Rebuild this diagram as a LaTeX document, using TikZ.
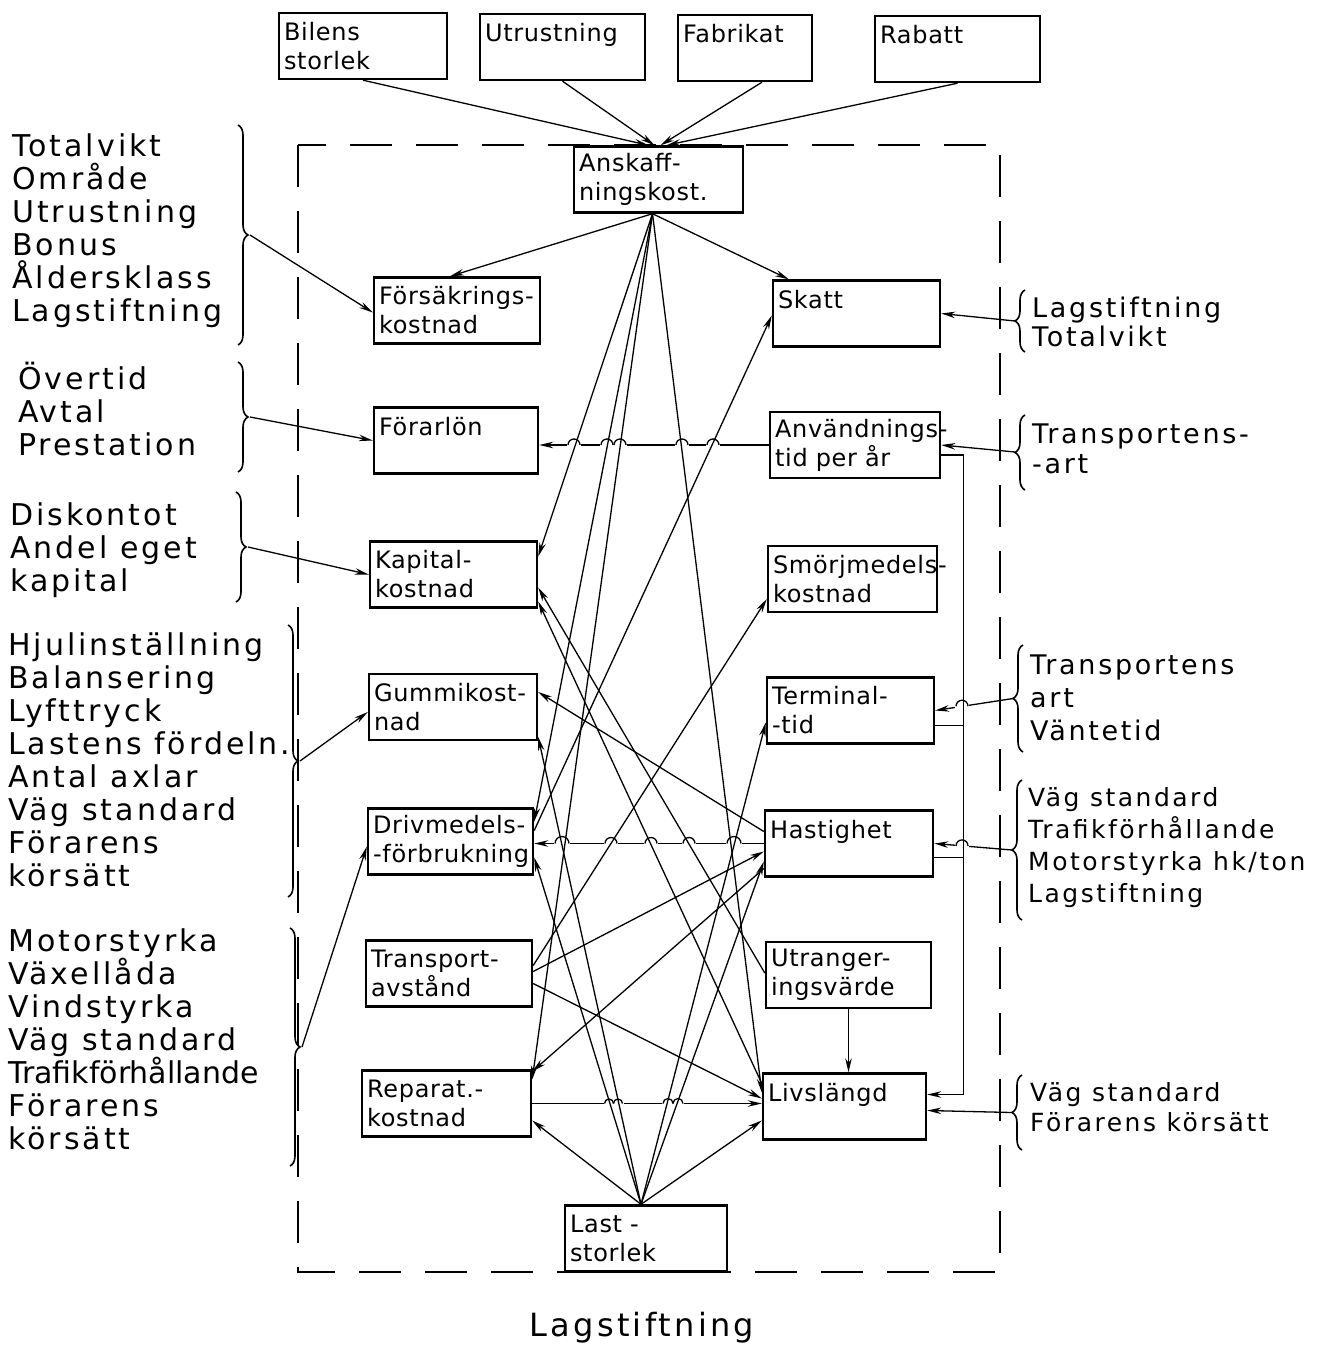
\documentclass[tikz,border=0pt]{standalone}
\usepackage{fontspec}
\setmainfont{DejaVu Sans}
\newfontfamily\hand{DejaVu Sans}[LetterSpace=10]
\newfontfamily\handbox{DejaVu Sans}[LetterSpace=3]
\usetikzlibrary{arrows.meta,calc,decorations.pathreplacing}

% small jumps where a line passes over another one
\newcommand{\hopgap}[3]{\fill[white] (#1-#3-1,#2-2.5) rectangle (#1+#3+1,#2+2.5);}
\newcommand{\hoparc}[3]{\draw[conn] (#1-#3,#2) arc (180:360:#3);}

\tikzset{
  box/.style={draw, line width=2.4pt, fill=white, align=left, text width=#1,
    minimum height=66pt, inner xsep=5pt, inner ysep=0pt,
    font=\handbox\fontsize{24}{29}\selectfont,
    execute at begin node={\exhyphenpenalty=10000\relax}},
  factors/.style={align=left, inner sep=0pt, anchor=north west,
    font=\hand\fontsize{30}{33}\selectfont},
  conn/.style={line width=1.3pt},
  arr/.style={conn, -{Stealth[length=14pt,width=6.5pt]}},
  frame/.style={line width=2pt, dash pattern=on 42pt off 24pt},
  bracket/.style={line width=1.6pt, decorate, decoration={brace, amplitude=10pt}},
}

\begin{document}
\begin{tikzpicture}[x=1pt,y=-1pt]
  \fill[white] (0,0) rectangle (1334,1357);
  \useasboundingbox (0,0) rectangle (1334,1357);

  \draw[frame] (298,145) rectangle (1000,1272);

  % boxes
  \node[box=158pt] (bil) at (363,46) {Bilens\\storlek};
  \node[box=155pt] (utr) at (562.5,47) {Utrustning\\\mbox{}};
  \node[box=124pt] (fab) at (745,48) {Fabrikat\\\mbox{}};
  \node[box=155pt] (rab) at (957.5,49) {Rabatt\\\mbox{}};

  \node[box=159pt] (ansk) at (658.5,179.5) {Anskaff-\\ningskost.};
  \node[box=156pt] (fors) at (457,310.5) {Försäkrings-\\kostnad};
  \node[box=157pt] (skatt) at (856.5,313.5) {Skatt\\\mbox{}};
  \node[box=154pt] (forar) at (456,440.5) {Förarlön\\\mbox{}};
  \node[box=160pt] (anv) at (855,445) {Användnings-\\tid per år};
  \node[box=157pt] (kap) at (453.5,574.5) {Kapital-\\kostnad};
  \node[box=159pt] (smorj) at (852.5,579) {Smörjmedels-\\kostnad};
  \node[box=158pt] (gummi) at (453,707) {Gummikost-\\nad};
  \node[box=157pt] (term) at (850.5,710.5) {Terminal-\\-tid};
  \node[box=155pt] (driv) at (450.5,841.5) {Drivmedels-\\-förbrukning};
  \node[box=158pt] (hast) at (849,843.5) {Hastighet\\\mbox{}};
  \node[box=156pt] (transp) at (449,973.5) {Transport-\\avstånd};
  \node[box=155pt] (utrang) at (848.5,975) {Utranger-\\ingsvärde};
  \node[box=159pt] (rep) at (446.5,1103.5) {Reparat.-\\kostnad};
  \node[box=153pt] (liv) at (844.5,1106.5) {Livslängd\\\mbox{}};
  \node[box=152pt] (last) at (646,1238.5) {Last -\\storlek};

  % factors on the left
  \node[factors] (g1) at (12,134) {Totalvikt\\Område\\Utrustning\\Bonus\\Åldersklass\\Lagstiftning};
  \node[factors] (g2) at (18,362) {Övertid\\Avtal\\Prestation};
  \node[factors] (g3) at (10,502) {Diskontot\\Andel eget\\kapital};
  \node[factors] (g4) at (8,632) {Hjulinställning\\Balansering\\Lyfttryck\\Lastens fördeln.\\Antal axlar\\Väg standard\\Förarens\\körsätt};
  \node[factors] (g5) at (8,928) {Motorstyrka\\Växellåda\\Vindstyrka\\Väg standard\\{\addfontfeatures{LetterSpace=0}Trafikförhållande}\\Förarens\\körsätt};

  \draw[bracket] (238,125) -- (238,345);
  \draw[bracket] (238,362) -- (238,472);
  \draw[bracket] (236,492) -- (236,602);
  \draw[bracket] (288,625) -- (288,897);
  \draw[bracket] (290,928) -- (290,1166);
  \coordinate (g1tip) at (250,235);
  \coordinate (g2tip) at (250,417);
  \coordinate (g3tip) at (248,547);
  \coordinate (g4tip) at (300,761);
  \coordinate (g5tip) at (302,1047);

  % factors on the right
  \node[factors, font=\hand\fontsize{27}{29}\selectfont] (r1) at (1032,297) {Lagstiftning\\Totalvikt};
  \node[factors, font=\hand\fontsize{27}{30}\selectfont] (r2) at (1032,424) {Transportens-\\-art};
  \node[factors, font=\hand\fontsize{27}{33}\selectfont] (r3) at (1030,655) {Transportens\\art\\Väntetid};
  \node[factors, font=\hand\fontsize{25}{32}\selectfont] (r4) at (1028,787) {Väg standard\\Trafikförhållande\\Motorstyrka hk/ton\\Lagstiftning};
  \node[factors, font=\hand\fontsize{25}{30}\selectfont] (r5) at (1030,1082) {Väg standard\\Förarens körsätt};

  \draw[bracket] (1025,352) -- (1025,290);
  \draw[bracket] (1025,490) -- (1025,415);
  \draw[bracket] (1023,752) -- (1023,645);
  \draw[bracket] (1022,920) -- (1022,780);
  \draw[bracket] (1022,1150) -- (1022,1075);
  \coordinate (r1tip) at (1015,321);
  \coordinate (r2tip) at (1015,452);
  \coordinate (r3tip) at (1013,698.5);
  \coordinate (r4tip) at (1012,850);
  \coordinate (r5tip) at (1012,1112.5);

  \node[font=\hand\fontsize{32}{36}\selectfont] (lag) at (642,1328) {Lagstiftning};

  % into Anskaffningskostnad
  \path[arr] (bil.south) edge ($(ansk.north)+(-10,0)$);
  \path[arr] (utr.south) edge ($(ansk.north)+(-4,0)$);
  \path[arr] ($(fab.south)+(17,0)$) edge ($(ansk.north)+(2,0)$);
  \path[arr] (rab.south) edge ($(ansk.north)+(8,0)$);

  \path[arr] (g1tip) edge ($(fors.west)+(0,2)$);
  \path[arr] (g2tip) edge (forar.west);
  \path[arr] (g3tip) edge (kap.west);
  \path[arr] (g4tip) edge ($(gummi.west)+(0,5)$);
  \path[arr] (g5tip) edge ($(driv.west)+(0,5)$);

  \path[arr] (r1tip) edge (skatt.east);
  \path[arr] (r2tip) edge (anv.east);
  \path[arr] (r3tip) edge (term.east);
  \path[arr] (r4tip) edge (hast.east);
  \path[arr] (r5tip) edge ($(liv.east)+(0,4)$);

  % straight links between the columns
  \path[arr] (anv.west) edge (anv.west -| forar.east);
  \path[arr] (hast.west) edge (hast.west -| driv.east);
  \path[arr] (rep.east) edge (rep.east -| liv.west);
  \path[arr] (utrang.south) edge (utrang.south |- liv.north);

  \hopgap{574}{445}{6} \hopgap{607}{445}{6} \hopgap{620}{445}{6}
  \hopgap{682}{445}{6} \hopgap{713}{445}{6}
  \hopgap{562}{843.5}{7} \hopgap{611}{843.5}{6} \hopgap{651}{843.5}{6}
  \hopgap{689}{843.5}{6} \hopgap{734}{843.5}{7}
  \hopgap{609}{1103.5}{4.5} \hopgap{618}{1103.5}{4.5}
  \hopgap{668}{1103.5}{5} \hopgap{678}{1103.5}{5}
  \hopgap{962}{706.2}{6} \hopgap{962}{845.9}{6}

  % Anskaffningskostnad and Last-storlek
  \coordinate (aS) at ($(ansk.south)+(-6,0)$);
  \coordinate (lN) at ($(last.north)+(-5,0)$);
  \path[arr] (aS) edge ($(fors.north)+(-7,0)$);
  \path[arr] (aS) edge ($(skatt.north west)+(17,0)$);
  \path[arr] (aS) edge ($(kap.east)+(0,-18)$);
  \path[arr] (aS) edge ($(driv.east)+(0,-20)$);
  \path[arr] (aS) edge ($(rep.east)+(0,-24)$);
  \path[arr] (aS) edge ($(liv.west)+(0,-14)$);
  \path[arr] (lN) edge ($(gummi.east)+(0,30)$);
  \path[arr] (lN) edge ($(driv.east)+(0,16)$);
  \path[arr] (lN) edge ($(rep.east)+(0,17)$);
  \path[arr] (lN) edge ($(liv.west)+(0,14)$);
  \path[arr] (lN) edge ($(term.west)+(0,12)$);
  \path[arr] (lN) edge ($(hast.west)+(0,18)$);

  % the crossing links
  \path[arr] ($(driv.east)+(0,-11)$) edge ($(skatt.west)+(0,2)$);
  \path[arr] ($(utrang.west)+(0,-2)$) edge ($(kap.east)+(0,13)$);
  \path[arr] ($(liv.west)+(0,-23)$) edge ($(kap.east)+(0,27)$);
  \path[arr] ($(hast.west)+(0,-12)$) edge ($(gummi.east)+(0,-15)$);
  \path[arr] ($(transp.east)+(0,-8)$) edge ($(smorj.west)+(0,20)$);
  \path[arr] ($(transp.east)+(0,-2)$) edge ($(hast.west)+(0,8)$);
  \path[arr] ($(transp.east)+(0,10)$) edge ($(liv.west)+(0,-8)$);
  \path[arr] ($(hast.west)+(0,25)$) edge ($(rep.east)+(0,-32)$);

  % right-hand return line
  \draw[arr] ($(anv.east)+(0,10)$) -- ++(22,0) |- ($(liv.east)+(0,-12)$);
  \draw[conn] ($(term.east)+(0,15)$) -- ++(28,0);
  \draw[conn] ($(hast.east)+(0,14)$) -- ++(29,0);

  \hoparc{574}{445}{6} \hoparc{607}{445}{6} \hoparc{620}{445}{6}
  \hoparc{682}{445}{6} \hoparc{713}{445}{6}
  \hoparc{562}{843.5}{7} \hoparc{611}{843.5}{6} \hoparc{651}{843.5}{6}
  \hoparc{689}{843.5}{6} \hoparc{734}{843.5}{7}
  \hoparc{609}{1103.5}{4.5} \hoparc{618}{1103.5}{4.5}
  \hoparc{668}{1103.5}{5} \hoparc{678}{1103.5}{5}
  \hoparc{962}{706.2}{6} \hoparc{962}{845.9}{6}
\end{tikzpicture}
\end{document}
